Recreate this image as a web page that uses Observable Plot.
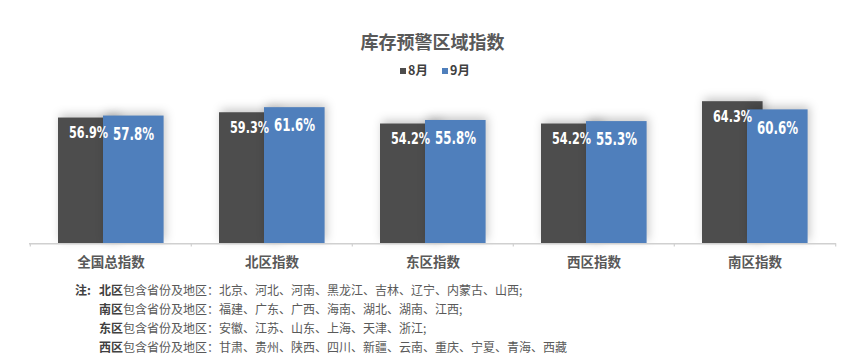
<!DOCTYPE html>
<html>
<head>
<meta charset="utf-8">
<script src="https://cdn.jsdelivr.net/npm/d3@7"></script>
<script src="https://cdn.jsdelivr.net/npm/@observablehq/plot@0.6"></script>
<style>
  html, body { margin: 0; padding: 0; background: #fff; }
  body { width: 865px; height: 361px; overflow: hidden; font-family: "Noto Sans CJK SC", "Noto Sans", sans-serif; }
  #title { padding-top: 27px; height: 28px; line-height: 28px; text-align: center; font-size: 18px; font-weight: bold; color: #595959; }
  #legend { margin-top: 7px; height: 16px; line-height: 16px; text-align: center; font-size: 12.5px; font-weight: bold; color: #404040; padding-left: 5px; }
  #legend .sw { display: inline-block; width: 6px; height: 6px; margin-right: 2px; vertical-align: 1px; }
  #legend .item { margin: 0 7px; }
  #chart svg { display: block; overflow: visible; }
  #chart .bars { filter: drop-shadow(2px -3px 5px rgba(0,0,0,0.22)); }
  #notes { padding-top: 3px; padding-left: 75px; font-size: 12px; color: #595959; line-height: 18.9px; }
  #notes .row { display: flex; white-space: nowrap; }
  #notes .lead { width: 24px; font-weight: bold; color: #404040; }
  #notes b { color: #404040; }
</style>
</head>
<body>
<div id="title"></div>
<div id="legend"></div>
<div id="chart"></div>
<div id="notes"></div>
<script>
const title = "库存预警区域指数";
const categories = ["全国总指数", "北区指数", "东区指数", "西区指数", "南区指数"];
const seriesNames = ["8月", "9月"];
const aug = [56.9, 59.3, 54.2, 54.2, 64.3];
const sep = [57.8, 61.6, 55.8, 55.3, 60.6];
const colors = ["#4d4d4d", "#4f7fbc"];
const noteLead = "注:";
const noteRegions = ["北区", "南区", "东区", "西区"];
const noteMid = "包含省份及地区：";
const noteLists = [
  "北京、河北、河南、黑龙江、吉林、辽宁、内蒙古、山西;",
  "福建、广东、广西、海南、湖北、湖南、江西;",
  "安徽、江苏、山东、上海、天津、浙江;",
  "甘肃、贵州、陕西、四川、新疆、云南、重庆、宁夏、青海、西藏"
];

document.getElementById("title").textContent = title;
document.getElementById("legend").innerHTML = seriesNames.map((s, i) =>
  `<span class="item"><span class="sw" style="background:${colors[i]}"></span>${s}</span>`).join("");

const dataAug = categories.map((c, i) => ({cat: c, v: aug[i]}));
const dataSep = categories.map((c, i) => ({cat: c, v: sep[i]}));

const W = 865, H = 200, mL = 29, mR = 29, mT = 10.6, mB = 34.7;
const bw = (W - mL - mR) / categories.length;
const labelFont = `"DejaVu Sans Condensed", "Liberation Sans Narrow", sans-serif`;

const chart = Plot.plot({
  width: W,
  height: H,
  marginLeft: mL,
  marginRight: mR,
  marginTop: mT,
  marginBottom: mB,
  x: {domain: categories, padding: 0, label: null},
  y: {domain: [0, 70], axis: null},
  style: {fontFamily: `"Noto Sans CJK SC", sans-serif`, background: "transparent"},
  marks: [
    Plot.barY(dataAug, {x: "cat", y: "v", fill: colors[0], insetLeft: 28, insetRight: bw - 89, className: "bars"}),
    Plot.barY(dataSep, {x: "cat", y: "v", fill: colors[1], insetLeft: 73, insetRight: bw - 134, className: "bars"}),
    Plot.ruleY([0], {stroke: "#d0d0d0", strokeWidth: 1.5}),
    Plot.ruleX(categories, {x: d => d, dx: -bw / 2, y1: 0, y2: -1.4, stroke: "#d0d0d0", strokeWidth: 1.2}),
    Plot.ruleX(categories.slice(-1), {x: d => d, dx: bw / 2, y1: 0, y2: -1.4, stroke: "#d0d0d0", strokeWidth: 1.2}),
    Plot.text(dataAug, {x: "cat", y: "v", dx: -22.5, dy: 15, text: d => d.v.toFixed(1) + "%", fill: "white", fontSize: 15, fontWeight: "bold", fontFamily: labelFont, className: "lab8"}),
    Plot.text(dataSep, {x: "cat", y: "v", dx: 22.5, dy: 18, text: d => d.v.toFixed(1) + "%", fill: "white", fontSize: 18, fontWeight: "bold", fontFamily: labelFont, className: "lab9"}),
    Plot.axisX({tickSize: 0, tickPadding: 14, fontSize: 13.5, fontWeight: "bold", fill: "#595959", label: null})
  ]
});
// condense the value labels to match the narrow label face
d3.select(chart).selectAll(".lab8 text").attr("textLength", 39).attr("lengthAdjust", "spacingAndGlyphs");
d3.select(chart).selectAll(".lab9 text").attr("textLength", 41).attr("lengthAdjust", "spacingAndGlyphs");
document.getElementById("chart").appendChild(chart);

document.getElementById("notes").innerHTML = noteRegions.map((r, i) =>
  `<div class="row"><span class="lead">${i === 0 ? noteLead : ""}</span><span><b>${r}</b>${noteMid}${noteLists[i]}</span></div>`).join("");
</script>
</body>
</html>
